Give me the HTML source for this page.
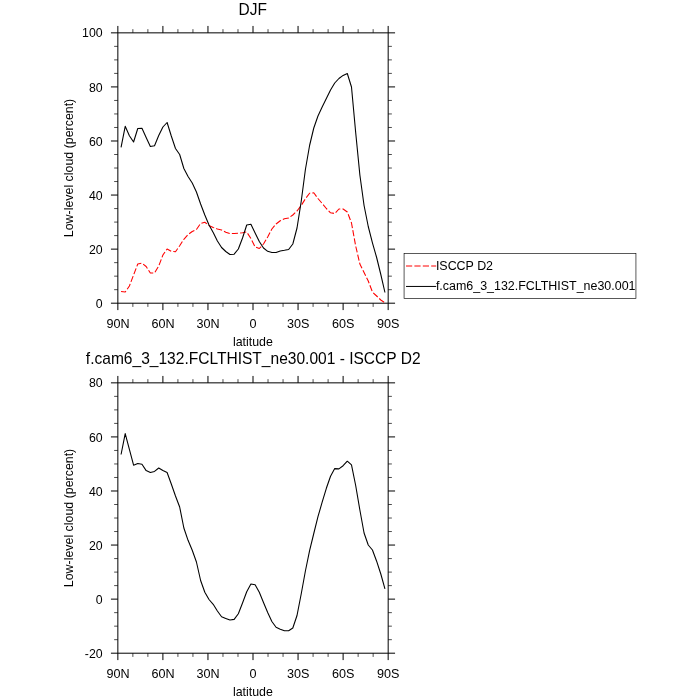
<!DOCTYPE html>
<html><head><meta charset="utf-8"><title>DJF</title>
<style>html,body{margin:0;padding:0;background:#fff}svg{display:block;will-change:transform}text{font-family:"Liberation Sans",sans-serif;fill:#000}</style></head>
<body>
<svg width="700" height="700" viewBox="0 0 700 700">
<rect x="0" y="0" width="700" height="700" fill="#fff"/>
<rect x="117.85" y="32.85" width="270.32" height="270.35" fill="none" stroke="#000" stroke-width="1.0"/>
<path d="M117.85 32.85 v-6.9 M117.85 303.2 v6.9 M162.90 32.85 v-6.9 M162.90 303.2 v6.9 M207.96 32.85 v-6.9 M207.96 303.2 v6.9 M253.01 32.85 v-6.9 M253.01 303.2 v6.9 M298.06 32.85 v-6.9 M298.06 303.2 v6.9 M343.12 32.85 v-6.9 M343.12 303.2 v6.9 M388.17 32.85 v-6.9 M388.17 303.2 v6.9 M117.85 32.85 h-6.9 M388.17 32.85 h6.9 M117.85 86.92 h-6.9 M388.17 86.92 h6.9 M117.85 140.99 h-6.9 M388.17 140.99 h6.9 M117.85 195.06 h-6.9 M388.17 195.06 h6.9 M117.85 249.13 h-6.9 M388.17 249.13 h6.9 M117.85 303.20 h-6.9 M388.17 303.20 h6.9" stroke="#000" stroke-width="1.0" fill="none"/>
<path d="M132.87 32.85 v-3.7 M132.87 303.2 v3.7 M147.89 32.85 v-3.7 M147.89 303.2 v3.7 M177.92 32.85 v-3.7 M177.92 303.2 v3.7 M192.94 32.85 v-3.7 M192.94 303.2 v3.7 M222.97 32.85 v-3.7 M222.97 303.2 v3.7 M237.99 32.85 v-3.7 M237.99 303.2 v3.7 M268.03 32.85 v-3.7 M268.03 303.2 v3.7 M283.05 32.85 v-3.7 M283.05 303.2 v3.7 M313.08 32.85 v-3.7 M313.08 303.2 v3.7 M328.10 32.85 v-3.7 M328.10 303.2 v3.7 M358.13 32.85 v-3.7 M358.13 303.2 v3.7 M373.15 32.85 v-3.7 M373.15 303.2 v3.7 M117.85 46.37 h-3.7 M388.17 46.37 h3.7 M117.85 59.88 h-3.7 M388.17 59.88 h3.7 M117.85 73.40 h-3.7 M388.17 73.40 h3.7 M117.85 100.44 h-3.7 M388.17 100.44 h3.7 M117.85 113.95 h-3.7 M388.17 113.95 h3.7 M117.85 127.47 h-3.7 M388.17 127.47 h3.7 M117.85 154.51 h-3.7 M388.17 154.51 h3.7 M117.85 168.02 h-3.7 M388.17 168.02 h3.7 M117.85 181.54 h-3.7 M388.17 181.54 h3.7 M117.85 208.58 h-3.7 M388.17 208.58 h3.7 M117.85 222.09 h-3.7 M388.17 222.09 h3.7 M117.85 235.61 h-3.7 M388.17 235.61 h3.7 M117.85 262.65 h-3.7 M388.17 262.65 h3.7 M117.85 276.16 h-3.7 M388.17 276.16 h3.7 M117.85 289.68 h-3.7 M388.17 289.68 h3.7" stroke="#000" stroke-width="0.7" fill="none"/>
<text x="102.6" y="37.45" font-size="12.3" text-anchor="end">100</text>
<text x="102.6" y="91.52" font-size="12.3" text-anchor="end">80</text>
<text x="102.6" y="145.59" font-size="12.3" text-anchor="end">60</text>
<text x="102.6" y="199.66" font-size="12.3" text-anchor="end">40</text>
<text x="102.6" y="253.73" font-size="12.3" text-anchor="end">20</text>
<text x="102.6" y="307.80" font-size="12.3" text-anchor="end">0</text>
<text x="117.95" y="327.90" font-size="12.6" text-anchor="middle">90N</text>
<text x="163.00" y="327.90" font-size="12.6" text-anchor="middle">60N</text>
<text x="208.06" y="327.90" font-size="12.6" text-anchor="middle">30N</text>
<text x="253.11" y="327.90" font-size="12.6" text-anchor="middle">0</text>
<text x="298.16" y="327.90" font-size="12.6" text-anchor="middle">30S</text>
<text x="343.22" y="327.90" font-size="12.6" text-anchor="middle">60S</text>
<text x="388.27" y="327.90" font-size="12.6" text-anchor="middle">90S</text>
<text transform="translate(252.91,346.40) scale(1,1.07)" font-size="12.4" text-anchor="middle">latitude</text>
<text transform="translate(72.5,167.97) rotate(-90) scale(1,1.03)" font-size="12.4" text-anchor="middle">Low-level cloud (percent)</text>
<rect x="117.85" y="382.85" width="270.32" height="270.35" fill="none" stroke="#000" stroke-width="1.0"/>
<path d="M117.85 382.85 v-6.9 M117.85 653.2 v6.9 M162.90 382.85 v-6.9 M162.90 653.2 v6.9 M207.96 382.85 v-6.9 M207.96 653.2 v6.9 M253.01 382.85 v-6.9 M253.01 653.2 v6.9 M298.06 382.85 v-6.9 M298.06 653.2 v6.9 M343.12 382.85 v-6.9 M343.12 653.2 v6.9 M388.17 382.85 v-6.9 M388.17 653.2 v6.9 M117.85 382.85 h-6.9 M388.17 382.85 h6.9 M117.85 436.92 h-6.9 M388.17 436.92 h6.9 M117.85 490.99 h-6.9 M388.17 490.99 h6.9 M117.85 545.06 h-6.9 M388.17 545.06 h6.9 M117.85 599.13 h-6.9 M388.17 599.13 h6.9 M117.85 653.20 h-6.9 M388.17 653.20 h6.9" stroke="#000" stroke-width="1.0" fill="none"/>
<path d="M132.87 382.85 v-3.7 M132.87 653.2 v3.7 M147.89 382.85 v-3.7 M147.89 653.2 v3.7 M177.92 382.85 v-3.7 M177.92 653.2 v3.7 M192.94 382.85 v-3.7 M192.94 653.2 v3.7 M222.97 382.85 v-3.7 M222.97 653.2 v3.7 M237.99 382.85 v-3.7 M237.99 653.2 v3.7 M268.03 382.85 v-3.7 M268.03 653.2 v3.7 M283.05 382.85 v-3.7 M283.05 653.2 v3.7 M313.08 382.85 v-3.7 M313.08 653.2 v3.7 M328.10 382.85 v-3.7 M328.10 653.2 v3.7 M358.13 382.85 v-3.7 M358.13 653.2 v3.7 M373.15 382.85 v-3.7 M373.15 653.2 v3.7 M117.85 396.37 h-3.7 M388.17 396.37 h3.7 M117.85 409.89 h-3.7 M388.17 409.89 h3.7 M117.85 423.40 h-3.7 M388.17 423.40 h3.7 M117.85 450.44 h-3.7 M388.17 450.44 h3.7 M117.85 463.96 h-3.7 M388.17 463.96 h3.7 M117.85 477.47 h-3.7 M388.17 477.47 h3.7 M117.85 504.51 h-3.7 M388.17 504.51 h3.7 M117.85 518.03 h-3.7 M388.17 518.03 h3.7 M117.85 531.54 h-3.7 M388.17 531.54 h3.7 M117.85 558.58 h-3.7 M388.17 558.58 h3.7 M117.85 572.10 h-3.7 M388.17 572.10 h3.7 M117.85 585.61 h-3.7 M388.17 585.61 h3.7 M117.85 612.65 h-3.7 M388.17 612.65 h3.7 M117.85 626.16 h-3.7 M388.17 626.16 h3.7 M117.85 639.68 h-3.7 M388.17 639.68 h3.7" stroke="#000" stroke-width="0.7" fill="none"/>
<text x="102.6" y="387.45" font-size="12.3" text-anchor="end">80</text>
<text x="102.6" y="441.52" font-size="12.3" text-anchor="end">60</text>
<text x="102.6" y="495.59" font-size="12.3" text-anchor="end">40</text>
<text x="102.6" y="549.66" font-size="12.3" text-anchor="end">20</text>
<text x="102.6" y="603.73" font-size="12.3" text-anchor="end">0</text>
<text x="102.6" y="657.80" font-size="12.3" text-anchor="end">-20</text>
<text x="117.95" y="677.90" font-size="12.6" text-anchor="middle">90N</text>
<text x="163.00" y="677.90" font-size="12.6" text-anchor="middle">60N</text>
<text x="208.06" y="677.90" font-size="12.6" text-anchor="middle">30N</text>
<text x="253.11" y="677.90" font-size="12.6" text-anchor="middle">0</text>
<text x="298.16" y="677.90" font-size="12.6" text-anchor="middle">30S</text>
<text x="343.22" y="677.90" font-size="12.6" text-anchor="middle">60S</text>
<text x="388.27" y="677.90" font-size="12.6" text-anchor="middle">90S</text>
<text transform="translate(252.91,696.40) scale(1,1.07)" font-size="12.4" text-anchor="middle">latitude</text>
<text transform="translate(72.5,517.98) rotate(-90) scale(1,1.03)" font-size="12.4" text-anchor="middle">Low-level cloud (percent)</text>
<text transform="translate(252.81,14.75) scale(1,1.065)" font-size="15.5" text-anchor="middle">DJF</text>
<text transform="translate(253.21,364.1) scale(1,1.065)" font-size="15.56" text-anchor="middle">f.cam6_3_132.FCLTHIST_ne30.001 - ISCCP D2</text>
<polyline points="121.06,291.50 125.21,292.00 129.39,286.00 133.58,275.00 137.77,264.00 141.96,263.20 146.15,266.50 150.34,273.00 154.53,273.00 158.72,266.00 162.91,255.00 167.10,249.00 171.29,251.30 175.48,251.70 179.67,245.70 183.86,239.30 188.05,234.50 192.24,231.50 196.43,229.50 200.62,223.50 204.82,222.30 209.01,225.50 213.20,227.50 217.39,229.00 221.58,230.00 225.77,232.20 229.96,233.50 234.15,233.50 238.34,233.20 242.53,232.70 246.72,232.00 250.91,238.50 255.11,247.00 259.30,248.50 263.49,244.00 267.68,237.00 271.87,229.00 276.06,224.00 280.25,220.80 284.44,218.70 288.63,218.00 292.82,215.00 297.01,211.00 301.20,205.50 305.40,198.80 309.59,193.20 313.78,192.80 317.97,198.50 322.16,203.50 326.35,208.50 330.54,212.80 334.73,213.50 338.92,209.00 343.11,209.00 347.30,212.00 351.49,223.00 355.68,246.00 359.87,264.00 364.06,272.50 368.25,281.00 372.44,292.00 376.63,296.00 380.81,300.00 384.96,302.80" fill="none" stroke="#f00" stroke-width="1.08" stroke-dasharray="6.15 2.15" stroke-dashoffset="0.7" stroke-linejoin="round"/>
<polyline points="121.06,147.30 125.21,126.30 129.39,135.80 133.58,142.00 137.77,128.50 141.96,128.30 146.15,137.40 150.34,146.50 154.53,145.80 158.72,135.50 162.91,127.00 167.10,122.50 171.29,136.00 175.48,148.50 179.67,154.50 183.86,168.50 188.05,176.50 192.24,183.00 196.43,192.00 200.62,204.00 204.82,215.00 209.01,225.00 213.20,232.50 217.39,241.00 221.58,247.50 225.77,251.50 229.96,254.50 234.15,254.20 238.34,249.00 242.53,238.00 246.72,225.00 250.91,224.20 255.11,233.00 259.30,241.50 263.49,248.00 267.68,251.30 271.87,252.50 276.06,252.50 280.25,251.00 284.44,250.30 288.63,249.50 292.82,244.00 297.01,228.00 301.20,201.50 305.40,169.50 309.59,145.50 313.78,128.00 317.97,116.00 322.16,107.00 326.35,98.50 330.54,90.00 334.73,83.00 338.92,78.50 343.11,75.40 347.30,73.50 351.49,87.00 355.68,132.50 359.87,175.00 364.06,205.50 368.25,226.50 372.44,242.80 376.63,257.50 380.81,274.50 384.96,292.50" fill="none" stroke="#000" stroke-width="1.08" stroke-linejoin="round"/>
<polyline points="121.06,454.50 125.21,433.60 129.39,449.30 133.58,465.20 137.77,463.50 141.96,464.20 146.15,470.60 150.34,472.50 154.53,471.40 158.72,468.00 162.91,470.50 167.10,472.50 171.29,484.00 175.48,496.00 179.67,507.00 183.86,528.00 188.05,540.30 192.24,550.20 196.43,562.00 200.62,580.50 204.82,592.20 209.01,599.50 213.20,604.30 217.39,611.00 221.58,616.70 225.77,618.40 229.96,620.00 234.15,619.40 238.34,613.80 242.53,603.00 246.72,591.80 250.91,584.00 255.11,584.70 259.30,592.30 263.49,602.50 267.68,612.50 271.87,621.50 276.06,627.30 280.25,629.20 284.44,630.80 288.63,630.80 292.82,628.00 297.01,615.50 301.20,594.00 305.40,571.00 309.59,550.70 313.78,533.50 317.97,516.70 322.16,502.20 326.35,488.30 330.54,476.20 334.73,468.60 338.92,468.90 343.11,465.70 347.30,461.20 351.49,464.90 355.68,485.50 359.87,510.00 364.06,533.00 368.25,545.00 372.44,550.00 376.63,561.20 380.81,574.00 384.96,588.80" fill="none" stroke="#000" stroke-width="1.08" stroke-linejoin="round"/>
<rect x="404.07" y="253.54" width="231.87" height="44.91" fill="#fff" stroke="#000" stroke-width="0.65"/>
<path d="M406.0 266.0 H436.2" stroke="#f00" stroke-width="1" stroke-dasharray="6.2 2.2" fill="none"/>
<path d="M406.0 286.45 H436.2" stroke="#000" stroke-width="1" fill="none"/>
<text x="435.9" y="270.3" font-size="12.45">ISCCP D2</text>
<text x="435.9" y="289.6" font-size="12.45">f.cam6_3_132.FCLTHIST_ne30.001</text>
</svg>
</body></html>
